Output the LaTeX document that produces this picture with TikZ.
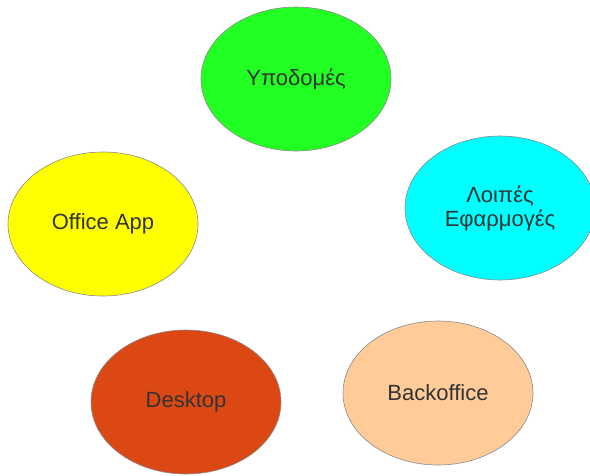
\documentclass[tikz,border=0pt]{standalone}
\usepackage{fontspec}
\setmainfont{Liberation Sans}
\usetikzlibrary{shapes.geometric}
\definecolor{infra}{HTML}{22FF22}
\definecolor{office}{HTML}{FFFF00}
\definecolor{other}{HTML}{00FFFF}
\definecolor{desk}{HTML}{DC4814}
\definecolor{back}{HTML}{FFCC99}
\definecolor{txt}{HTML}{333333}
\definecolor{rim}{HTML}{8A8A8A}

\begin{document}
\begin{tikzpicture}[x=1pt,y=-1pt]
\tikzstyle{blob}=[ellipse,draw=rim,line width=0.6pt,minimum width=190pt,minimum height=144pt,inner sep=0pt,text=txt,font=\fontsize{22}{24}\selectfont,align=center]
\useasboundingbox (0,0) rectangle (590,475);
\clip (0,0) rectangle (590,475);
\node [blob,fill=infra] (infra) at (296,79) {Υποδομές};
\node [blob,fill=office] (office) at (103,224) {Office App};
\node [blob,fill=other] (other) at (500,208) {Λοιπές\\Εφαρμογές};
\node [blob,fill=desk] (desk) at (186,402) {Desktop};
\node [blob,fill=back] (back) at (438,393) {Backoffice};
\end{tikzpicture}
\end{document}
